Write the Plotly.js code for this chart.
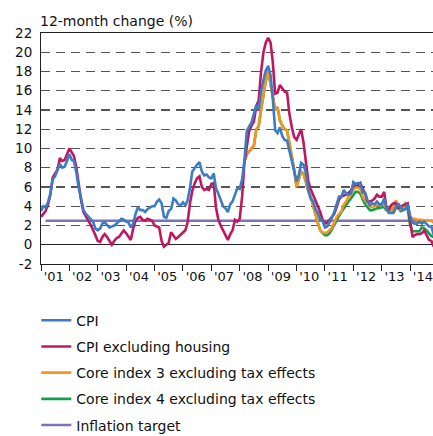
<!DOCTYPE html>
<html>
<head>
<meta charset="utf-8">
<script src="https://cdn.plot.ly/plotly-3.0.1.min.js"></script>
<style>html,body{margin:0;padding:0;background:#fff;}#chart{width:433px;height:436px;}</style>
</head>
<body>
<div id="chart"></div>
<script>
// Monthly series, 12-month change (%)
const seriesStart = [2001, 1];       // first month of CPI series
const coreStart = [2008, 3];         // first month of core index series
const targetDates = ['2001-03-01', '2014-11-01'];
const targetValues = [2.5, 2.5];

const cpi = [
  3.5, 4.0, 3.9, 4.4, 5.3, 6.8, 7.1, 7.8, 8.4, 8.0, 8.1, 8.7,
  9.4, 8.8, 8.7, 7.5, 5.9, 4.8, 3.6, 3.2, 2.9, 2.7, 2.4, 1.7,
  1.5, 1.7, 2.2, 2.3, 2.1, 1.8, 1.9, 2.0, 2.2, 2.5, 2.7, 2.6,
  2.4, 2.3, 1.8, 2.2, 3.2, 3.9, 3.6, 3.6, 3.4, 3.7, 3.9, 4.0,
  4.0, 4.5, 4.7, 4.3, 2.9, 2.8, 3.5, 3.7, 4.8, 4.6, 4.2, 4.1,
  4.4, 4.1, 4.6, 5.9, 7.6, 8.0, 8.3, 8.6, 7.6, 7.2, 7.3, 7.0,
  6.9, 7.4, 5.9, 5.3, 4.7, 4.0, 3.8, 3.4, 4.2, 4.5, 5.2, 5.9,
  5.8, 6.8, 8.7, 11.8, 12.3, 12.7, 13.6, 14.5, 14.0, 15.9, 17.1, 18.1,
  18.6, 17.6, 15.2, 11.9, 11.6, 12.2, 11.3, 10.9, 10.8, 9.7, 8.6, 7.5,
  6.6, 7.3, 8.5, 8.3, 7.5, 5.7, 4.8, 4.5, 3.7, 3.3, 2.6, 2.5,
  1.8, 1.9, 2.3, 2.8, 3.4, 4.2, 5.0, 5.0, 5.7, 5.3, 5.2, 5.3,
  6.5, 6.3, 6.4, 6.4, 5.4, 5.4, 4.6, 4.1, 4.3, 4.2, 4.5, 4.2,
  4.2, 4.8, 3.9, 3.3, 3.3, 3.3, 3.8, 4.3, 3.9, 3.6, 3.7, 4.2,
  3.0, 2.3, 2.2, 2.2, 2.4, 2.2, 2.4, 2.2, 1.9, 1.9, 1.0
];
const cpiExHousing = [
  2.9, 3.2, 3.5, 4.2, 5.2, 7.0, 7.4, 7.8, 9.0, 8.7, 8.8, 9.5,
  10.0, 9.6, 9.2, 8.0, 6.2, 4.6, 3.4, 2.9, 2.5, 2.1, 1.6, 1.0,
  0.4, 0.3, 0.8, 1.1, 0.8, 0.4, 0.0, 0.4, 0.7, 0.8, 1.1, 1.5,
  1.2, 0.9, 0.5, 1.7, 2.5, 2.8, 2.9, 2.6, 2.5, 2.7, 2.6, 2.5,
  2.0, 1.9, 1.8, 0.4, -0.2, 0.0, 0.2, 1.3, 0.9, 0.6, 0.8, 1.0,
  1.2, 1.5, 2.3, 4.3, 5.6, 6.4, 6.9, 7.1, 6.0, 5.7, 5.8, 5.7,
  6.3, 6.4, 3.9, 2.6, 2.0, 1.5, 1.0, 0.5, 1.1, 1.5, 2.6, 2.4,
  2.7, 5.0, 8.5, 10.2, 11.8, 12.4, 12.8, 14.4, 15.0, 17.9, 20.0, 21.0,
  21.5, 21.0, 19.0, 15.7, 15.8, 16.6, 16.3, 15.9, 15.8, 13.6, 12.2, 11.2,
  10.9, 11.5, 12.0, 10.6, 8.5, 6.6, 5.8, 5.2, 4.6, 4.1, 3.4, 2.6,
  2.2, 2.3, 2.6, 2.9, 3.2, 3.9, 4.7, 5.0, 5.1, 5.2, 5.4, 5.6,
  6.1, 6.2, 6.2, 6.4, 5.8, 5.3, 4.5, 4.5, 4.6, 4.8, 5.2, 5.0,
  5.0, 5.5, 3.9, 3.6, 4.1, 4.3, 4.3, 3.8, 3.9, 4.1, 4.2, 4.3,
  2.5, 0.8, 1.0, 1.1, 1.1, 1.2, 1.5, 1.0, 0.5, 0.4, -0.2
];
const core3 = [
  8.7, 9.4, 9.7, 10.0, 10.3, 12.0, 12.3, 14.0, 15.6, 17.0,
  18.1, 16.8, 15.4, 14.0, 14.3, 12.9, 12.4, 12.0, 11.9, 10.6, 9.0, 7.8,
  6.0, 6.9, 7.6, 7.4, 6.4, 5.6, 5.0, 4.0, 3.2, 2.3, 1.5, 1.3,
  1.2, 1.3, 1.5, 1.8, 2.3, 2.9, 3.2, 3.5, 4.2, 4.5, 5.0, 5.2,
  5.7, 6.0, 5.9, 5.8, 5.0, 4.6, 4.4, 4.0, 3.9, 4.0, 4.1, 4.1,
  4.2, 4.2, 3.8, 3.6, 3.5, 4.0, 4.6, 4.1, 3.7, 3.7, 4.3, 4.0,
  2.9, 2.7, 2.7, 2.6, 2.6, 2.6, 2.5, 2.5, 2.5, 2.5, 2.3
];
const core4 = [
  8.7, 9.4, 9.7, 10.0, 10.3, 12.0, 12.3, 14.0, 15.6, 17.0,
  18.1, 16.8, 15.4, 14.0, 14.3, 12.9, 12.4, 12.0, 11.9, 10.6, 9.0, 7.8,
  6.0, 6.9, 7.6, 7.4, 6.4, 5.6, 5.0, 4.0, 3.2, 2.3, 1.5, 1.2,
  1.0, 1.0, 1.2, 1.6, 2.1, 2.6, 3.0, 3.4, 3.8, 4.1, 4.5, 4.8,
  5.2, 5.5, 5.5, 5.3, 4.7, 4.2, 3.9, 3.6, 3.6, 3.7, 3.8, 3.8,
  3.9, 3.9, 3.6, 3.5, 3.4, 3.8, 4.3, 3.9, 3.5, 3.6, 3.9, 3.7,
  2.0, 1.4, 1.4, 1.4, 1.4, 1.8, 1.7, 1.5, 1.2, 0.9, 0.8
];
const seriesNames = ['CPI', 'CPI excluding housing', 'Core index 3 excluding tax effects',
                     'Core index 4 excluding tax effects', 'Inflation target'];
const yTicks = [-2, 0, 2, 4, 6, 8, 10, 12, 14, 16, 18, 20, 22];
const yearLabels = ["'01", "'02", "'03", "'04", "'05", "'06", "'07", "'08", "'09", "'10", "'11", "'12", "'13", "'14"];
const firstYear = 2001;

function months(start, n) {
  const out = [];
  for (let i = 0; i < n; i++) {
    const t = (start[1] - 1) + i;
    const y = start[0] + Math.floor(t / 12);
    const m = (t % 12) + 1;
    out.push(y + '-' + String(m).padStart(2, '0') + '-01');
  }
  return out;
}
const yearMids = yearLabels.map((_, i) => (firstYear + i) + '-06-14');

const colors = {
  cpi: '#3b7dc4', ex: '#c0175f', c3: '#f7941d', c4: '#10a24a', tgt: '#7b72b8'
};
const lw = 2.6;
const font = 'DejaVu Sans, Noto Sans, sans-serif';

const traces = [
  {x: targetDates, y: targetValues, name: seriesNames[4], mode: 'lines',
   line: {color: colors.tgt, width: lw}, legendrank: 5, legendgroup: 'g5'},
  {x: months(coreStart, core4.length), y: core4, name: seriesNames[3], mode: 'lines',
   line: {color: colors.c4, width: lw}, legendrank: 4, legendgroup: 'g4'},
  {x: months(coreStart, core3.length), y: core3, name: seriesNames[2], mode: 'lines',
   line: {color: colors.c3, width: lw}, legendrank: 3, legendgroup: 'g3'},
  {x: months(seriesStart, cpiExHousing.length), y: cpiExHousing, name: seriesNames[1], mode: 'lines',
   line: {color: colors.ex, width: lw}, legendrank: 2, legendgroup: 'g2'},
  {x: months(seriesStart, cpi.length), y: cpi, name: seriesNames[0], mode: 'lines',
   line: {color: colors.cpi, width: lw}, legendrank: 1, legendgroup: 'g1'}
];

const layout = {
  width: 433, height: 436,
  margin: {l: 41, r: 0, t: 33, b: 172, pad: 0, autoexpand: false},
  paper_bgcolor: '#fff', plot_bgcolor: '#fff',
  font: {family: font, size: 13, color: '#111'},
  showlegend: true,
  legend: {orientation: 'v', x: -0.012, xanchor: 'left', y: -0.176, yanchor: 'top',
           traceorder: 'grouped', tracegroupgap: 5, font: {size: 14, color: '#111'},
           itemwidth: 30, bgcolor: 'rgba(0,0,0,0)'},
  xaxis: {
    type: 'date', range: ['2001-01-01', '2014-10-22'],
    showline: true, linecolor: '#222', linewidth: 1, mirror: true,
    tickvals: yearMids, ticktext: yearLabels, ticks: '', ticklabeloverflow: 'allow',
    minor: {dtick: 'M12', tick0: '2001-01-01', ticks: 'outside', ticklen: 6,
            tickcolor: '#222', tickwidth: 1, showgrid: false},
    showgrid: false, zeroline: false, fixedrange: true,
    tickfont: {size: 13, color: '#111'}
  },
  yaxis: {
    range: [-2, 22], tickvals: yTicks, ticktext: yTicks.map(String),
    showline: true, linecolor: '#222', linewidth: 1,
    ticks: '', showgrid: true, gridcolor: '#555', gridwidth: 1.3, griddash: '9px,6px',
    zeroline: true, zerolinecolor: '#222', zerolinewidth: 1,
    ticklabelstandoff: 5, tickfont: {size: 13.5, color: '#111'}, fixedrange: true
  },
  annotations: [{
    text: '12-month change (%)', xref: 'paper', yref: 'paper', x: 0, y: 1,
    xanchor: 'left', yanchor: 'bottom', xshift: -3, yshift: 2, showarrow: false,
    font: {size: 14, color: '#111'}
  }]
};

Plotly.newPlot('chart', traces, layout, {staticPlot: true, displayModeBar: false});
</script>
</body>
</html>
